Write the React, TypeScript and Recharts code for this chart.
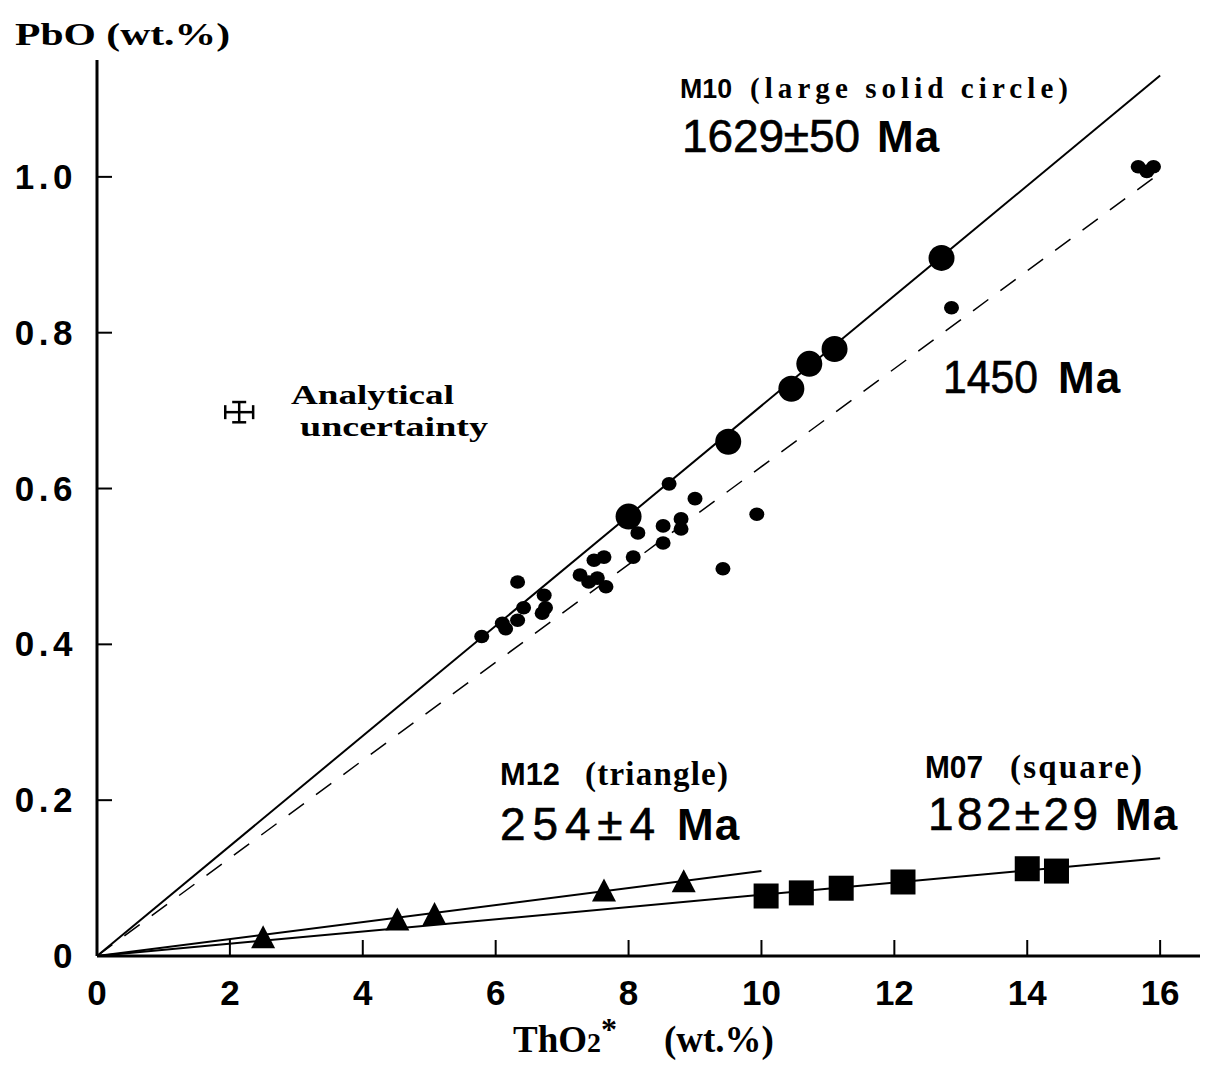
import React from "react";
import { ComposedChart, Scatter, XAxis, YAxis, ErrorBar } from "recharts";

const xTicks = [0, 2, 4, 6, 8, 10, 12, 14, 16];
const yTicks = [0, 0.2, 0.4, 0.6, 0.8, 1.0];
const yTickLabels = ["0", "0.2", "0.4", "0.6", "0.8", "1.0"];

// M10 large solid circles
const m10BigX = [8.0, 9.5, 10.45, 10.72, 11.1, 12.71];
const m10BigY = [0.564, 0.66, 0.728, 0.76, 0.779, 0.896];

// M10 small circles
const m10SmallX = [5.79, 6.1, 6.15, 6.33, 6.42, 6.33, 6.73, 6.7, 6.75, 7.27, 7.4, 7.53, 7.66, 7.48, 7.63, 8.07, 8.14, 8.52, 8.52, 8.79, 8.79, 8.61, 9.0, 9.93, 9.42, 12.86, 15.67, 15.9, 15.8];
const m10SmallY = [0.41, 0.427, 0.42, 0.431, 0.447, 0.48, 0.463, 0.44, 0.447, 0.489, 0.48, 0.485, 0.474, 0.508, 0.512, 0.512, 0.543, 0.552, 0.53, 0.561, 0.548, 0.606, 0.587, 0.567, 0.497, 0.832, 1.013, 1.013, 1.007];

// M12 triangles
const m12X = [2.5, 4.52, 5.08, 7.63, 8.83];
const m12Y = [0.024, 0.047, 0.054, 0.084, 0.096];

// M07 squares
const m07X = [10.07, 10.6, 11.2, 12.13, 14.0, 14.44];
const m07Y = [0.077, 0.081, 0.087, 0.095, 0.112, 0.109];

// isochrons
const m10LineX = [0, 16];
const m10LineY = [0, 1.13];
const refLineX = [0, 16];
const refLineY = [0, 1.005];
const m12LineX = [0, 10];
const m12LineY = [0, 0.109];
const m07LineX = [0, 16];
const m07LineY = [0, 0.1256];

// analytical uncertainty
const errX = [2.14];
const errY = [0.698];
const errDx = [0.21];
const errDy = [0.013];

const zip = (xs: number[], ys: number[]) => xs.map((x, i) => ({ x, y: ys[i] }));

const BigDot = (p: any) => <circle cx={p.cx} cy={p.cy} r={13} fill="#000" />;
const SmallDot = (p: any) => <ellipse cx={p.cx} cy={p.cy} rx={7.5} ry={6.8} fill="#000" />;
const Tri = (p: any) => (
  <polygon
    points={`${p.cx},${p.cy - 12} ${p.cx - 12},${p.cy + 11} ${p.cx + 12},${p.cy + 11}`}
    fill="#000"
  />
);
const Sq = (p: any) => <rect x={p.cx - 12.5} y={p.cy - 12.5} width={25} height={25} fill="#000" />;
const NoDot = () => <g />;

const sans = "'Liberation Sans', Arial, sans-serif";
const serif = "'Liberation Serif', 'Times New Roman', serif";

const XTick = (props: any) => {
  const { x, y, payload } = props;
  return (
    <g>
      {payload.value !== 0 && <line x1={x} x2={x} y1={y} y2={y - 16} stroke="#000" strokeWidth={2} />}
      <text x={x} y={y + 49} textAnchor="middle" fontFamily={sans} fontWeight="bold" fontSize={35} fill="#000">
        {payload.value}
      </text>
    </g>
  );
};

const YTick = (props: any) => {
  const { x, y, payload } = props;
  const idx = yTicks.indexOf(payload.value);
  return (
    <g>
      {payload.value !== 0 && <line x1={x} x2={x + 15} y1={y} y2={y} stroke="#000" strokeWidth={2} />}
      <text x={x - 20} y={y + 12} textAnchor="end" fontFamily={sans} fontWeight="bold" fontSize={35} letterSpacing={4.5} fill="#000">
        {yTickLabels[idx]}
      </text>
    </g>
  );
};

const Age = ({ x, y, w, num, maX }: { x: number; y: number; w: number; num: string; maX: number }) => (
  <g>
    <text x={x} y={y} fontFamily={sans} fontSize={46} textLength={w} lengthAdjust="spacing" fill="#000" stroke="#000" strokeWidth={0.6}>
      {num}
    </text>
    <text x={maX} y={y} fontFamily={sans} fontWeight="bold" fontSize={44} letterSpacing={1} fill="#000">
      Ma
    </text>
  </g>
);

const Tag = ({ x, y, size, name, nameW, rest, restX, restW }: any) => (
  <g>
    <text x={x} y={y} fontFamily={sans} fontWeight="bold" fontSize={size} textLength={nameW} lengthAdjust="spacingAndGlyphs" fill="#000">
      {name}
    </text>
    <text x={restX} y={y} fontFamily={serif} fontWeight="bold" fontSize={size + 2} textLength={restW} lengthAdjust="spacing" fill="#000">
      {rest}
    </text>
  </g>
);

export default function App() {
  const W = 1210;
  const H = 1068;
  return (
    <div style={{ position: "absolute", left: 0, top: 0, width: W, height: H, background: "#fff" }}>
      <ComposedChart width={W} height={H} margin={{ top: 60, right: 10, bottom: 0, left: 0 }}>
        <XAxis
          type="number"
          dataKey="x"
          domain={[0, 16.6]}
          ticks={xTicks}
          allowDataOverflow
          height={112}
          tickSize={0}
          tickMargin={0}
          tickLine={false}
          axisLine={{ stroke: "#000", strokeWidth: 3 }}
          tick={<XTick />}
        />
        <YAxis
          type="number"
          dataKey="y"
          domain={[0, 1.15]}
          ticks={yTicks}
          allowDataOverflow
          width={97}
          tickSize={0}
          tickMargin={0}
          tickLine={false}
          axisLine={{ stroke: "#000", strokeWidth: 3 }}
          tick={<YTick />}
        />
        <Scatter data={zip(m10LineX, m10LineY)} line={{ stroke: "#000", strokeWidth: 2 }} shape={NoDot} isAnimationActive={false} />
        <Scatter data={zip(refLineX, refLineY)} line={{ stroke: "#000", strokeWidth: 1.5, strokeDasharray: "19 15" }} shape={NoDot} isAnimationActive={false} />
        <Scatter data={zip(m12LineX, m12LineY)} line={{ stroke: "#000", strokeWidth: 2 }} shape={NoDot} isAnimationActive={false} />
        <Scatter data={zip(m07LineX, m07LineY)} line={{ stroke: "#000", strokeWidth: 2 }} shape={NoDot} isAnimationActive={false} />
        <Scatter data={zip(m10SmallX, m10SmallY)} shape={SmallDot} isAnimationActive={false} />
        <Scatter data={zip(m10BigX, m10BigY)} shape={BigDot} isAnimationActive={false} />
        <Scatter data={zip(m12X, m12Y)} shape={Tri} isAnimationActive={false} />
        <Scatter data={zip(m07X, m07Y)} shape={Sq} isAnimationActive={false} />
        <Scatter
          data={errX.map((x, i) => ({ x, y: errY[i], ex: errDx[i], ey: errDy[i] }))}
          shape={NoDot}
          isAnimationActive={false}
        >
          <ErrorBar dataKey="ex" direction="x" width={7} stroke="#000" strokeWidth={2.5} isAnimationActive={false} />
          <ErrorBar dataKey="ey" direction="y" width={7} stroke="#000" strokeWidth={2.5} isAnimationActive={false} />
        </Scatter>
      </ComposedChart>
      <svg width={W} height={H} style={{ position: "absolute", left: 0, top: 0, pointerEvents: "none" }}>
        <text x={15} y={45} fontFamily={serif} fontWeight="bold" fontSize={32} textLength={215} lengthAdjust="spacingAndGlyphs" fill="#000">
          PbO (wt.%)
        </text>
        <text x={513} y={1052} fontFamily={serif} fontWeight="bold" fontSize={37} fill="#000">
          ThO
          <tspan fontSize={28}>2</tspan>
          <tspan fontSize={32} dy={-12}>*</tspan>
          <tspan dy={12} x={664}>(wt.%)</tspan>
        </text>
        <Tag x={680} y={98} size={27} name="M10" nameW={52} rest="(large solid circle)" restX={750} restW={318} />
        <Age x={682} y={152} w={178} num="1629±50" maX={877} />
        <g>
          <text x={943} y={393} fontFamily={sans} fontSize={46} textLength={95} lengthAdjust="spacingAndGlyphs" fill="#000" stroke="#000" strokeWidth={0.6}>
            1450
          </text>
          <text x={1058} y={393} fontFamily={sans} fontWeight="bold" fontSize={44} letterSpacing={1} fill="#000">
            Ma
          </text>
        </g>
        <Tag x={500} y={785} size={31} name="M12" nameW={60} rest="(triangle)" restX={585} restW={143} />
        <Age x={500} y={840} w={155} num="254±4" maX={677} />
        <Tag x={925} y={778} size={31} name="M07" nameW={58} rest="(square)" restX={1010} restW={132} />
        <Age x={928} y={830} w={170} num="182±29" maX={1115} />
        <text x={291} y={404} fontFamily={serif} fontWeight="bold" fontSize={28} textLength={163} lengthAdjust="spacingAndGlyphs" fill="#000">
          Analytical
        </text>
        <text x={300} y={436} fontFamily={serif} fontWeight="bold" fontSize={28} textLength={188} lengthAdjust="spacingAndGlyphs" fill="#000">
          uncertainty
        </text>
      </svg>
    </div>
  );
}
